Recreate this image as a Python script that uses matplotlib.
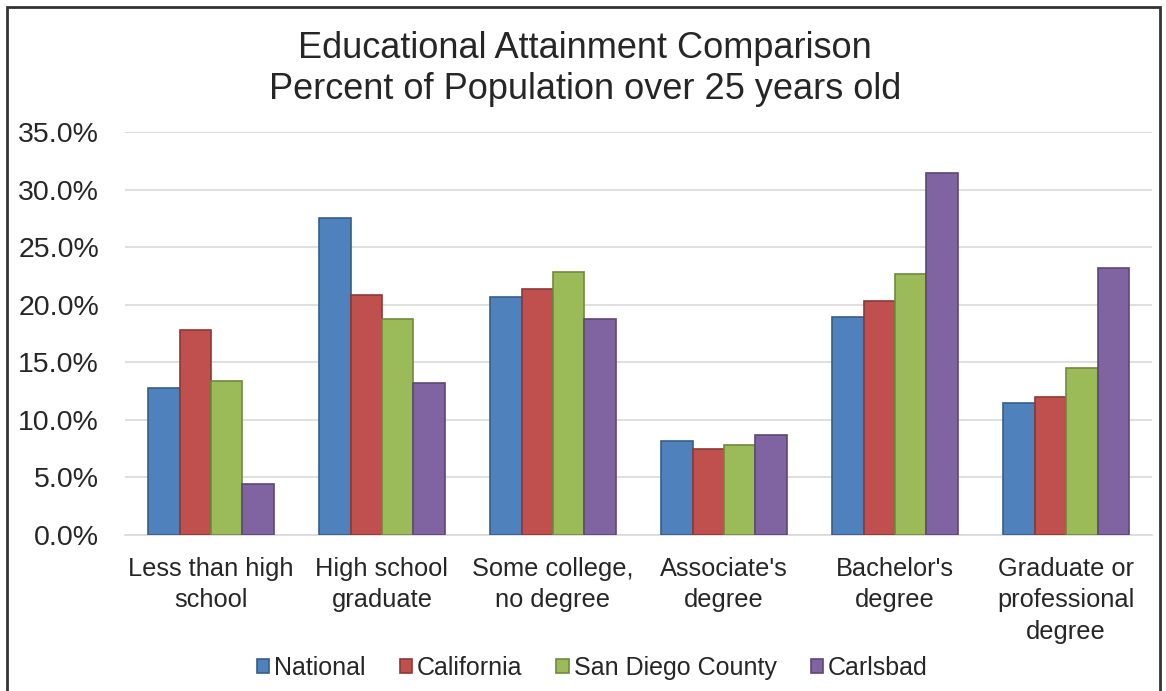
import numpy as np
import matplotlib.pyplot as plt
from matplotlib.patches import Rectangle
from matplotlib.ticker import FuncFormatter

plt.rcParams['font.family'] = ['Liberation Sans', 'DejaVu Sans']

categories = ["Less than high\nschool", "High school\ngraduate", "Some college,\nno degree",
              "Associate's\ndegree", "Bachelor's\ndegree", "Graduate or\nprofessional\ndegree"]
series = ["National", "California", "San Diego County", "Carlsbad"]
national = [12.8, 27.5, 20.7, 8.2, 18.9, 11.5]
california = [17.8, 20.8, 21.4, 7.5, 20.3, 12.0]
san_diego = [13.4, 18.8, 22.8, 7.8, 22.7, 14.5]
carlsbad = [4.4, 13.2, 18.8, 8.7, 31.4, 23.2]

colors = ["#4F81BD", "#C0504D", "#9BBB59", "#8064A2"]
edges = ["#385D8A", "#8C3836", "#71893F", "#5C4776"]

fig = plt.figure(figsize=(11.66, 6.91), dpi=100)
ax = fig.add_axes([0.1076, 0.2258, 0.88, 0.5832])

x = np.arange(len(categories))
w = 0.184
for i, (vals, name) in enumerate(zip([national, california, san_diego, carlsbad], series)):
    ax.bar(x + (i - 1.5) * w, vals, w, color=colors[i], edgecolor=edges[i],
           linewidth=1.2, label=name, zorder=3)

ax.set_xlim(-0.5, len(categories) - 0.5)
ax.set_ylim(0, 35)
ax.set_yticks(np.arange(0, 36, 5))
ax.yaxis.set_major_formatter(FuncFormatter(lambda v, p: f"{v:.1f}%"))
ax.grid(axis='y', color='#D9D9D9', linewidth=1.2, zorder=0)
for s in ['top', 'right', 'left']:
    ax.spines[s].set_visible(False)
ax.spines['bottom'].set_color('#D9D9D9')
ax.spines['bottom'].set_linewidth(1.2)
ax.tick_params(axis='y', length=0, pad=19, labelsize=20.5, labelcolor='#262626')
ax.tick_params(axis='x', length=0, pad=16, labelsize=18.3, labelcolor='#262626')
ax.set_xticks(x)
ax.set_xticklabels(categories, linespacing=1.38)

fig.text(0.502, 0.9, "Educational Attainment Comparison\nPercent of Population over 25 years old",
         ha='center', va='center', fontsize=26, color='#262626', linespacing=1.2)

fig.legend(loc='center', bbox_to_anchor=(0.508, 0.033), ncol=4, frameon=False,
           fontsize=18, handlelength=0.5, handleheight=0.5, handletextpad=0.2,
           columnspacing=1.35, labelcolor='#262626')

fig.patches.append(Rectangle((0.006, -0.01), 0.989, 1.0, transform=fig.transFigure,
                             fill=False, edgecolor='#333333', linewidth=2))

fig.savefig("out.png", dpi=100)
